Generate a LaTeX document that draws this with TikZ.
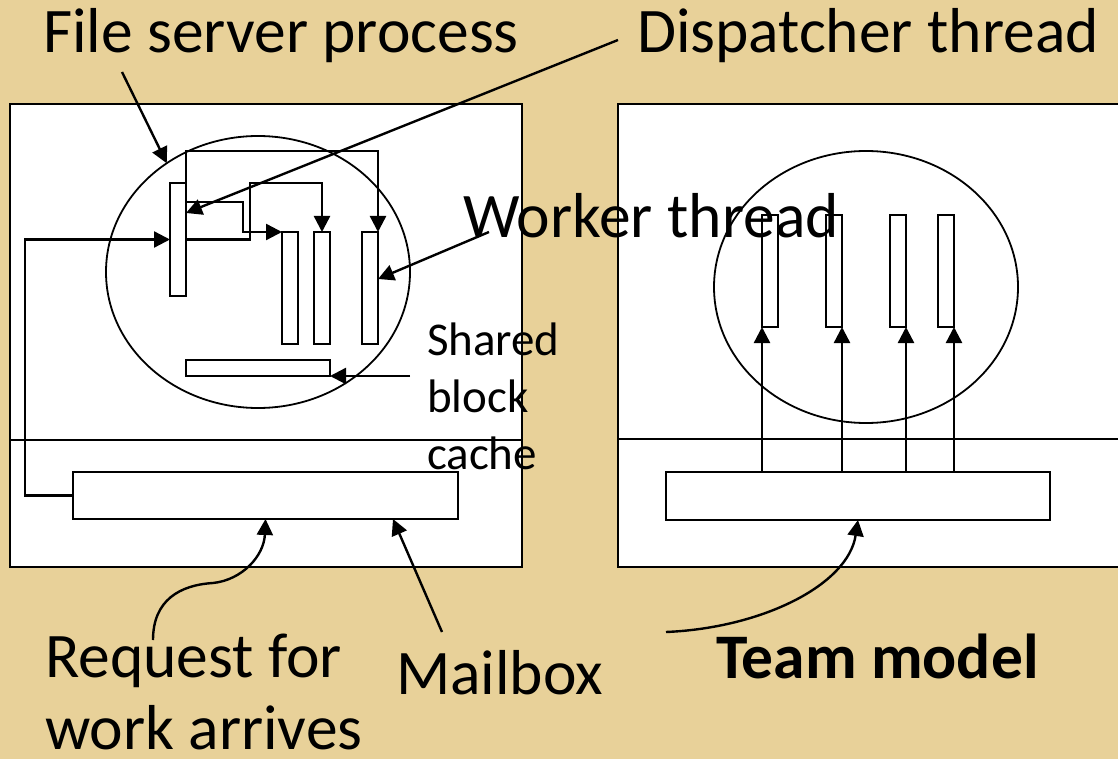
\documentclass[tikz,border=0pt]{standalone}
\usepackage{fontspec}
\setmainfont{Carlito}
\usetikzlibrary{arrows.meta,shapes.geometric}
\definecolor{parch}{RGB}{232,209,153}
\begin{document}
\begin{tikzpicture}[x=1pt,y=-1pt,
  frame/.style={draw, line width=2.4pt, fill=white, inner sep=0pt, outer sep=0pt},
  thr/.style={draw, line width=2.4pt, fill=white, inner sep=0pt, outer sep=0pt, minimum width=16pt},
  proc/.style={draw, ellipse, line width=1.8pt, inner sep=0pt, outer sep=0pt, minimum width=304pt, minimum height=272pt},
  arr/.style={line width=2.4pt, -{Triangle[length=16pt,width=16pt]}},
  big/.style={font=\fontsize{63.5}{72}\selectfont, inner sep=0pt, outer sep=0pt, anchor=base west},
  small/.style={font=\fontsize{47}{57}\selectfont, inner sep=0pt, outer sep=0pt, align=left, anchor=north west}]
\clip (0,0) rectangle (1118,759);
\fill[parch] (0,0) rectangle (1118,759);

% ---------- left: dispatcher/worker model ----------
\node[frame, minimum width=512pt, minimum height=463pt] (lbox) at (266,335.5) {};
\draw[line width=2.4pt] (10,440) -- (522,440);
\node[proc] (lproc) at (258,272) {};
\node[thr, minimum height=113pt] (disp) at (178,239.5) {};
\node[thr, minimum height=112pt] (w1) at (290,288) {};
\node[thr, minimum height=112pt] (w2) at (322,288) {};
\node[thr, minimum height=112pt] (w3) at (370,288) {};
\node[thr, minimum width=144pt, minimum height=16pt] (cache) at (258,368) {};
\node[frame, minimum width=385pt, minimum height=47pt] (mb) at (265.5,495.5) {};

\coordinate (lc) at (25,239.5);
\draw[arr] (mb.west) -| (lc) -- (disp.west);
\draw[arr] ([yshift=-19pt]disp.north east) -- ++(57,0) |- (w1.north west);
\draw[arr] (disp.east) -- ++(64,0) -- ++(0,-56.5) -| (w2.north);
\draw[arr] (disp.north east) -- ++(0,-32) -| (w3.north east);

% ---------- right: team model ----------
\node[frame, minimum width=510pt, minimum height=463pt] (rbox) at (873,335.5) {};
\draw[line width=2.4pt] (618,439) -- (1128,439);
\node[proc] (rproc) at (866,287) {};
\node[thr, minimum height=112pt] (r1) at (770,271) {};
\node[thr, minimum height=112pt] (r2) at (834,271) {};
\node[thr, minimum height=112pt] (r3) at (898,271) {};
\node[thr, minimum height=112pt] (r4) at (946,271) {};
\node[frame, minimum width=384pt, minimum height=48pt] (rmb) at (858,496) {};
\draw[arr] (r1.south west |- rmb.north) -- (r1.south west);
\draw[arr] (r2.south east |- rmb.north) -- (r2.south east);
\draw[arr] (r3.south east |- rmb.north) -- (r3.south east);
\draw[arr] (r4.south east |- rmb.north) -- (r4.south east);

% ---------- labels ----------
\node[big] (fsp) at (43,53) {File server process};
\node[big] (dt) at (637,53) {Dispatcher thread};
\node[big] (wt) at (463,237) {Worker thread};
\node[small] (sbc) at (427,323) {Shared\\block\\cache};
\node[big, anchor=north west, align=left] (req) at (45,634) {Request for\\work arrives};
\node[big] (mbl) at (396,694) {Mailbox};
\node[big, font=\fontsize{63.5}{72}\selectfont\bfseries] (tm) at (716,678) {Team model};

\coordinate (fspA) at (122,72);
\coordinate (dtA) at (618,40);
\coordinate (wtA) at (489,232);
\coordinate (sbcA) at (410,376);
\coordinate (reqA) at (153,640);
\coordinate (mbA) at (442,632);
\coordinate (tmA) at (666,632);

\draw[arr] (fspA) -- (lproc.130);
\draw[arr] (dtA) -- ([yshift=26.5pt]disp.east);
\draw[arr] (wtA) -- ([yshift=9pt]w3.east);
\draw[arr] (sbcA) -- (cache.south east);
\draw[arr] (reqA) .. controls (153,600) and (180,585) .. (213,583)
                  .. controls (242,580) and (264,556) .. (mb.south);
\draw[arr] (mbA) -- ([xshift=127.5pt]mb.south);
\draw[arr] (tmA) .. controls (762,628) and (848,585) .. (rmb.south);
\end{tikzpicture}
\end{document}
